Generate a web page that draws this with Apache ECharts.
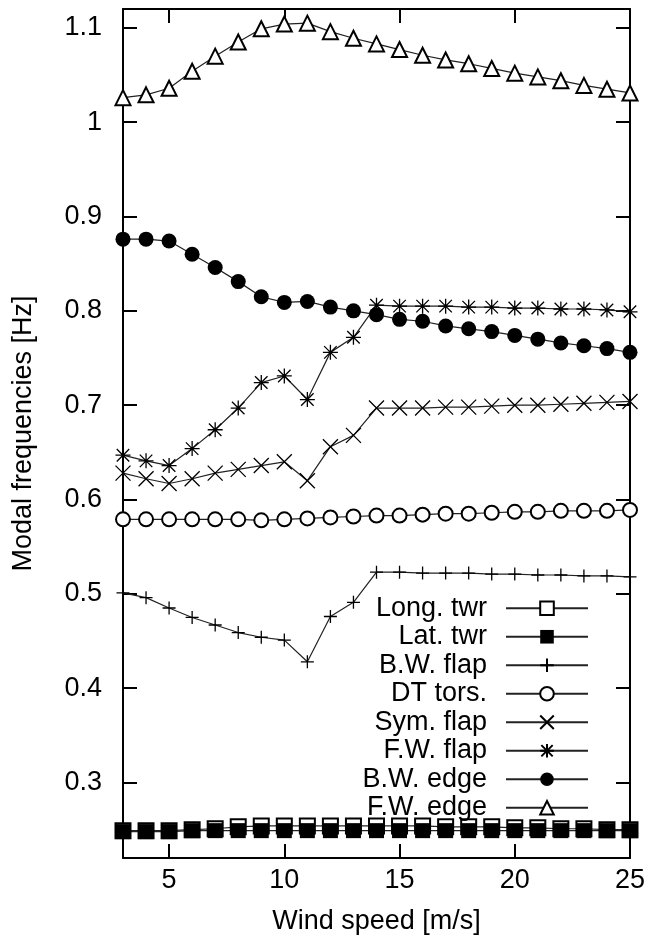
<!DOCTYPE html>
<html>
<head>
<meta charset="utf-8">
<script src="https://cdn.jsdelivr.net/npm/echarts@6/dist/echarts.min.js"></script>
<style>
  html, body { margin: 0; padding: 0; background: #fff; }
  #chart { width: 650px; height: 945px; }
</style>
</head>
<body>
<div id="chart"></div>
<script>
const windSpeed = [3, 4, 5, 6, 7, 8, 9, 10, 11, 12, 13, 14, 15, 16, 17, 18, 19, 20, 21, 22, 23, 24, 25];
const longTwr = [0.249, 0.249, 0.249, 0.250, 0.251, 0.253, 0.254, 0.254, 0.254, 0.254, 0.254, 0.254, 0.254, 0.254, 0.253, 0.253, 0.253, 0.252, 0.252, 0.251, 0.251, 0.250, 0.250];
const latTwr = [0.248, 0.248, 0.248, 0.249, 0.249, 0.249, 0.249, 0.249, 0.249, 0.249, 0.249, 0.249, 0.249, 0.249, 0.249, 0.249, 0.249, 0.249, 0.249, 0.249, 0.249, 0.249, 0.249];
const bwFlap = [0.501, 0.496, 0.485, 0.475, 0.467, 0.459, 0.454, 0.451, 0.428, 0.476, 0.491, 0.523, 0.523, 0.522, 0.522, 0.522, 0.521, 0.521, 0.520, 0.520, 0.519, 0.519, 0.518];
const dtTors = [0.579, 0.579, 0.579, 0.579, 0.579, 0.579, 0.578, 0.579, 0.580, 0.581, 0.582, 0.583, 0.583, 0.584, 0.585, 0.585, 0.586, 0.587, 0.587, 0.588, 0.588, 0.588, 0.589];
const symFlap = [0.628, 0.622, 0.617, 0.622, 0.628, 0.632, 0.636, 0.640, 0.620, 0.656, 0.668, 0.697, 0.697, 0.697, 0.698, 0.698, 0.699, 0.700, 0.700, 0.701, 0.702, 0.703, 0.704];
const fwFlap = [0.647, 0.641, 0.636, 0.654, 0.674, 0.697, 0.724, 0.731, 0.706, 0.756, 0.772, 0.806, 0.805, 0.805, 0.805, 0.804, 0.804, 0.803, 0.803, 0.802, 0.802, 0.801, 0.799];
const bwEdge = [0.876, 0.876, 0.874, 0.860, 0.846, 0.831, 0.815, 0.809, 0.810, 0.804, 0.800, 0.796, 0.791, 0.789, 0.784, 0.781, 0.778, 0.774, 0.770, 0.766, 0.763, 0.760, 0.756];
const fwEdge = [1.026, 1.029, 1.036, 1.054, 1.070, 1.085, 1.099, 1.104, 1.105, 1.096, 1.089, 1.083, 1.077, 1.071, 1.066, 1.062, 1.057, 1.052, 1.048, 1.044, 1.039, 1.035, 1.031];
const xTicks = [5, 10, 15, 20, 25];
const yTicks = [0.3, 0.4, 0.5, 0.6, 0.7, 0.8, 0.9, 1, 1.1];

const FONT = 'Liberation Sans';
const pts = (vals) => windSpeed.map((x, i) => [x, vals[i]]);

// gnuplot style point shapes drawn as strokes
const PLUS = 'path://M0,-1L0,1M-1,0L1,0';
const CROSS = 'path://M-1,-1L1,1M-1,1L1,-1';
const STAR = 'path://M-1,-1L1,1M-1,1L1,-1M0,-1.2L0,1.2M-1.2,0L1.2,0';

const strokeStyle = { color: 'rgba(0,0,0,0)', borderColor: '#000', borderWidth: 1.3 };

function line(name, vals, symbol, size, itemStyle) {
  return {
    name: name,
    type: 'line',
    data: pts(vals),
    symbol: symbol,
    symbolSize: size,
    showAllSymbol: true,
    lineStyle: { color: '#222', width: 1.2 },
    itemStyle: itemStyle,
    emphasis: { disabled: true }
  };
}

const axisBase = {
  axisLine: { show: true, onZero: false, lineStyle: { color: '#000', width: 2 } },
  axisTick: { show: true, inside: true, length: 14, lineStyle: { color: '#000', width: 2 } },
  splitLine: { show: false }
};

const option = {
  animation: false,
  backgroundColor: '#fff',
  textStyle: { fontFamily: FONT, color: '#000' },
  grid: { left: 123, right: 20, top: 9, bottom: 87 },
  xAxis: [
    Object.assign({}, axisBase, {
      type: 'value', min: 3, max: 25,
      name: 'Wind speed [m/s]', nameLocation: 'middle', nameGap: 50,
      nameTextStyle: { fontSize: 27, fontFamily: FONT, color: '#000' },
      axisTick: Object.assign({}, axisBase.axisTick, { customValues: xTicks }),
      axisLabel: { customValues: xTicks, fontSize: 27, fontFamily: FONT, color: '#000', margin: 9 }
    }),
    Object.assign({}, axisBase, {
      type: 'value', min: 3, max: 25, position: 'top',
      axisTick: Object.assign({}, axisBase.axisTick, { customValues: xTicks }),
      axisLabel: { show: false }
    })
  ],
  yAxis: [
    Object.assign({}, axisBase, {
      type: 'value', min: 0.22, max: 1.12,
      name: 'Modal frequencies [Hz]', nameLocation: 'middle', nameGap: 86,
      nameTextStyle: { fontSize: 27, fontFamily: FONT, color: '#000' },
      axisTick: Object.assign({}, axisBase.axisTick, { customValues: yTicks }),
      axisLabel: { customValues: yTicks, fontSize: 27, fontFamily: FONT, color: '#000', margin: 21 }
    }),
    Object.assign({}, axisBase, {
      type: 'value', min: 0.22, max: 1.12, position: 'right',
      axisTick: Object.assign({}, axisBase.axisTick, { customValues: yTicks }),
      axisLabel: { show: false }
    })
  ],
  legend: {
    orient: 'vertical',
    align: 'right',
    right: 61,
    top: 594,
    padding: 0,
    itemWidth: 82,
    itemHeight: 17,
    itemGap: 0,
    textStyle: { fontSize: 27, fontFamily: FONT, color: '#000', lineHeight: 28.5, padding: [0, 14, 0, 0] },
    data: ['Long. twr', 'Lat. twr', 'B.W. flap', 'DT tors.', 'Sym. flap', 'F.W. flap', 'B.W. edge', 'F.W. edge']
  },
  series: [
    line('Long. twr', longTwr, 'emptyRect', 15, { color: '#000', borderWidth: 1.3 }),
    line('Lat. twr', latTwr, 'rect', 15, { color: '#000' }),
    line('B.W. flap', bwFlap, PLUS, 13, strokeStyle),
    line('DT tors.', dtTors, 'emptyCircle', 14, { color: '#000', borderWidth: 1.3 }),
    line('Sym. flap', symFlap, CROSS, 15, strokeStyle),
    line('F.W. flap', fwFlap, STAR, 15, strokeStyle),
    line('B.W. edge', bwEdge, 'circle', 15, { color: '#000' }),
    line('F.W. edge', fwEdge, 'emptyTriangle', 15, { color: '#000', borderWidth: 1.3 })
  ]
};

const chart = echarts.init(document.getElementById('chart'), null, { renderer: 'canvas' });
chart.setOption(option);
</script>
</body>
</html>
